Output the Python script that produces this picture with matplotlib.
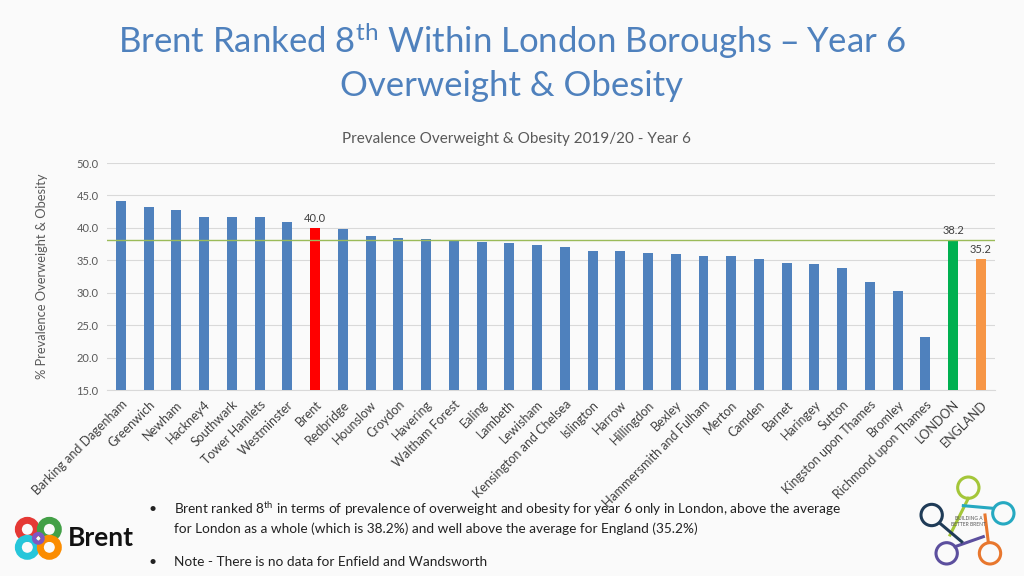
import matplotlib.pyplot as plt
from matplotlib.patches import Circle

plt.rcParams['font.family'] = ['Lato', 'DejaVu Sans']
plt.rcParams['mathtext.default'] = 'regular'

boroughs = ['Barking and Dagenham', 'Greenwich', 'Newham', 'Hackney4', 'Southwark',
            'Tower Hamlets', 'Westminster', 'Brent', 'Redbridge', 'Hounslow', 'Croydon',
            'Havering', 'Waltham Forest', 'Ealing', 'Lambeth', 'Lewisham',
            'Kensington and Chelsea', 'Islington', 'Harrow', 'Hillingdon', 'Bexley',
            'Hammersmith and Fulham', 'Merton', 'Camden', 'Barnet', 'Haringey', 'Sutton',
            'Kingston upon Thames', 'Bromley', 'Richmond upon Thames', 'LONDON', 'ENGLAND']
prevalence = [44.2, 43.3, 42.8, 41.7, 41.7, 41.7, 40.9, 40.0, 39.8, 38.8, 38.5,
              38.3, 38.2, 37.8, 37.6, 37.3, 37.0, 36.5, 36.5, 36.1, 35.9,
              35.7, 35.7, 35.2, 34.6, 34.5, 33.8, 31.7, 30.3, 23.1, 38.2, 35.2]
london_avg = 38.2
labelled = ['Brent', 'LONDON', 'ENGLAND']

blue = '#4F81BD'
colours = []
for b in boroughs:
    if b == 'Brent':
        colours.append('#FF0000')
    elif b == 'LONDON':
        colours.append('#00B050')
    elif b == 'ENGLAND':
        colours.append('#F79646')
    else:
        colours.append(blue)

fig = plt.figure(figsize=(10.24, 5.76), dpi=100)
fig.patch.set_facecolor('#FAFAFA')

# slide title
fig.text(0.5, 0.93, 'Brent Ranked 8$^{th}$ Within London Boroughs \u2013 Year 6',
         ha='center', va='center', fontsize=25, color='#4F81BD')
fig.text(0.5, 0.85, 'Overweight & Obesity', ha='center', va='center',
         fontsize=25, color='#4F81BD')

ax = fig.add_axes([0.1045, 0.3229, 0.867, 0.394])
ax.set_facecolor('none')
x = range(len(boroughs))
ax.bar(x, [v - 15 for v in prevalence], bottom=15, width=0.36, color=colours, zorder=3)
ax.axhline(london_avg, color='#9BBB59', lw=1, zorder=4)

for i, b in enumerate(boroughs):
    if b in labelled:
        ax.text(i, prevalence[i] + 0.6, '%.1f' % prevalence[i], ha='center', va='bottom',
                fontsize=8, color='#404040', zorder=5)

ax.set_xlim(-0.5, len(boroughs) - 0.5)
ax.set_ylim(15, 50)
ax.set_yticks([15, 20, 25, 30, 35, 40, 45, 50])
ax.set_yticklabels(['%.1f' % t for t in ax.get_yticks()], fontsize=8, color='#595959')
ax.set_xticks(list(x))
ax.set_xticklabels(boroughs, rotation=45, ha='right', rotation_mode='anchor',
                   fontsize=9, color='#404040')
ax.tick_params(length=0, pad=6)
ax.grid(axis='y', color='#D9D9D9', lw=0.8, zorder=0)
for s in ['top', 'right', 'left']:
    ax.spines[s].set_visible(False)
ax.spines['bottom'].set_color('#D9D9D9')
fig.text(516 / 1024, 1 - 139 / 576, 'Prevalence Overweight & Obesity 2019/20 - Year 6',
         fontsize=11, color='#595959', ha='center', va='center')
ax.set_ylabel('% Prevalence Overweight & Obesity', fontsize=9.3, color='#595959')
ax.yaxis.set_label_coords(-0.066, 0.5)

# bullet notes
fig.text(0.145, 0.117, '\u2022', fontsize=10, color='#222222', va='center')
fig.text(0.17, 0.117, 'Brent ranked 8$^{th}$ in terms of prevalence of overweight and obesity '
         'for year 6 only in London, above the average', fontsize=9.8, color='#222222',
         va='center')
fig.text(0.17, 0.082, 'for London as a whole (which is 38.2%) and well above the average '
         'for England (35.2%)', fontsize=9.8, color='#222222', va='center')
fig.text(0.145, 0.024, '\u2022', fontsize=10, color='#222222', va='center')
fig.text(0.17, 0.024, 'Note - There is no data for Enfield and Wandsworth', fontsize=9.8,
         color='#222222', va='center')

# Brent logo
lax = fig.add_axes([0.0, 0.0, 150 / 1024, 76 / 576])
lax.set_xlim(0, 450)
lax.set_ylim(228, 0)
lax.axis('off')
for cx, cy, c in [(82, 88, '#E53935'), (148, 88, '#43A047'), (82, 142, '#26C6DA'),
                  (148, 142, '#FB8C00')]:
    lax.add_patch(Circle((cx, cy), 27, fill=False, lw=5, ec=c))
lax.add_patch(Circle((115, 115), 13, fill=False, lw=3, ec='#7E57C2'))
lax.text(203, 115, 'Brent', fontsize=19, fontweight='bold', color='#111111', va='center')

# Building a Better Brent logo
rax = fig.add_axes([900 / 1024, 0.0, 124 / 1024, 111 / 576])
rax.set_xlim(0, 372)
rax.set_ylim(333, 0)
rax.axis('off')
rings = [((205, 68), (205, 100), (150, 210), '#A4C639'),
         ((310, 145), (280, 130), (190, 122), '#26A9C1'),
         ((270, 265), (265, 232), (255, 150), '#E8772E'),
         ((140, 265), (165, 245), (250, 215), '#5C4F9E'),
         ((95, 150), (120, 175), (185, 230), '#1F3B57')]
for centre, h0, h1, c in rings:
    rax.add_patch(Circle(centre, 32, fill=False, lw=2.2, ec=c))
    rax.plot([h0[0], h1[0]], [h0[1], h1[1]], color=c, lw=2.2)
rax.text(205, 170, 'BUILDING A\nBETTER BRENT', fontsize=3.5, ha='center', va='center',
         color='#555555')

fig.savefig('out.png', dpi=100, facecolor=fig.get_facecolor())
